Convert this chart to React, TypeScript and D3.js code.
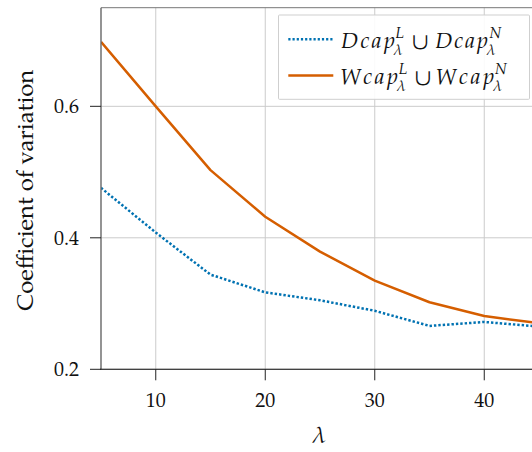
import React from "react";
import * as d3 from "d3";

// λ values on the x axis
const lambdas = [5, 10, 15, 20, 25, 30, 35, 40, 45];
// Coefficient of variation for each union of capacities
const dcapCV = [0.476, 0.408, 0.344, 0.317, 0.305, 0.289, 0.266, 0.272, 0.265];
const wcapCV = [0.698, 0.6, 0.503, 0.432, 0.379, 0.335, 0.302, 0.281, 0.27];

const xTicks = [10, 20, 30, 40];
const yTicks = [0.2, 0.4, 0.6];

const W = 532;
const H = 452;
const left = 101;
const right = 539;
const top = 7.7;
const bottom = 369.3;

const FONT = "'TeX Gyre Pagella', 'Liberation Serif', serif";
const BLUE = "#0072B2";
const ORANGE = "#D55E00";

// legend entries: symbol name, superscripts, and typeset positions of each piece
type Row = {
  name: string;
  base: string;
  sup1: string;
  sup2: string;
  color: string;
  dash?: string;
  lay: { x0: number; bw: number; supX: number; subX: number; cupX: number; x2: number; bw2: number; sup2X: number; sub2X: number };
};
const legendRows: Row[] = [
  {
    name: "dcap",
    base: "Dcap",
    sup1: "L",
    sup2: "N",
    color: BLUE,
    dash: "2.2 2",
    lay: { x0: 341, bw: 54, supX: 395.5, subX: 394, cupX: 411.5, x2: 435.3, bw2: 52.6, sup2X: 489.5, sub2X: 487 },
  },
  {
    name: "wcap",
    base: "Wcap",
    sup1: "L",
    sup2: "N",
    color: ORANGE,
    lay: { x0: 340, bw: 58, supX: 398.8, subX: 397.3, cupX: 414.3, x2: 435.5, bw2: 58.8, sup2X: 495, sub2X: 493.5 },
  },
];

const txt: React.CSSProperties = { fontFamily: FONT };

export default function App() {
  const x = d3.scaleLinear().domain([5, 45]).range([left, right]);
  const y = d3.scaleLinear().domain([0.2, 0.75]).range([bottom, top]);

  const line = d3
    .line<number>()
    .x((_, i) => x(lambdas[i]))
    .y((d) => y(d));

  const series = [
    { values: dcapCV, color: BLUE, dash: "2.4 2.0" },
    { values: wcapCV, color: ORANGE, dash: undefined as string | undefined },
  ];

  const rowGap = 36.3;

  return (
    <svg
      width={W}
      height={H}
      style={{ position: "absolute", left: 0, top: 0, background: "#fff", fontFamily: FONT }}
    >
      <defs>
        <clipPath id="plot-area">
          <rect x={left} y={top} width={right - left} height={bottom - top} />
        </clipPath>
      </defs>

      {/* grid */}
      {xTicks.map((t) => (
        <line key={"gx" + t} x1={x(t)} x2={x(t)} y1={top} y2={bottom} stroke="#cbcbcb" strokeWidth={1} />
      ))}
      {yTicks.map((t) => (
        <line key={"gy" + t} x1={left} x2={right} y1={y(t)} y2={y(t)} stroke="#cbcbcb" strokeWidth={1} />
      ))}

      {/* data lines */}
      <g clipPath="url(#plot-area)">
        {series.map((s, i) => (
          <path
            key={i}
            d={line(s.values) || ""}
            fill="none"
            stroke={s.color}
            strokeWidth={2.5}
            strokeDasharray={s.dash}
            strokeLinejoin="round"
          />
        ))}
      </g>

      {/* spines */}
      <line x1={left} x2={right} y1={top} y2={top} stroke="#777" strokeWidth={1} />
      <line x1={left} x2={left} y1={top} y2={bottom} stroke="#666" strokeWidth={1.4} />
      <line x1={left - 1} x2={right} y1={bottom} y2={bottom} stroke="#111" strokeWidth={1.1} />

      {/* ticks and tick labels */}
      {xTicks.map((t) => (
        <g key={"tx" + t}>
          <line x1={x(t)} x2={x(t)} y1={bottom} y2={bottom + 11} stroke="#222" strokeWidth={1} />
          <text style={txt} x={x(t)} y={406.5} fontSize={20} textAnchor="middle" fill="#111">
            {t}
          </text>
        </g>
      ))}
      {yTicks.map((t) => (
        <g key={"ty" + t}>
          <line x1={left - 11} x2={left} y1={y(t)} y2={y(t)} stroke="#222" strokeWidth={1} />
          <text style={txt} x={79} y={y(t) + 7} fontSize={20} textAnchor="end" fill="#111">
            {t.toFixed(1)}
          </text>
        </g>
      ))}

      {/* axis labels */}
      <text style={txt} x={319.5} y={442.5} fontSize={23} fontStyle="italic" textAnchor="middle" fill="#111">
        λ
      </text>
      <text
        style={txt}
        transform="translate(33.3,190.3) rotate(-90)"
        fontSize={23}
        textAnchor="middle"
        fill="#111"
        textLength={241}
        lengthAdjust="spacingAndGlyphs"
      >
        Coefficient of variation
      </text>

      {/* legend */}
      <rect x={278.5} y={15} width={251} height={84.3} fill="#fff" fillOpacity={0.9} stroke="#cfcfcf" strokeWidth={1} rx={1} />
      {legendRows.map((r, i) => {
        const cy = 39.3 + i * rowGap;
        const base = 47.7 + i * rowGap;
        const L = r.lay;
        return (
          <g key={r.name} fill="#111" style={txt}>
            <line x1={288.3} x2={333.3} y1={cy} y2={cy} stroke={r.color} strokeWidth={2.5} strokeDasharray={r.dash} />
            <text x={L.x0} y={base} fontSize={22} fontStyle="italic" textLength={L.bw} lengthAdjust="spacing">
              {r.base}
            </text>
            <text x={L.supX} y={base - 9.7} fontSize={15} fontStyle="italic">
              {r.sup1}
            </text>
            <text x={L.subX} y={base + 7.3} fontSize={15} fontStyle="italic">
              λ
            </text>
            <text x={L.cupX} y={base} fontSize={23}>
              ∪
            </text>
            <text x={L.x2} y={base} fontSize={22} fontStyle="italic" textLength={L.bw2} lengthAdjust="spacing">
              {r.base}
            </text>
            <text x={L.sup2X} y={base - 9.7} fontSize={15} fontStyle="italic">
              {r.sup2}
            </text>
            <text x={L.sub2X} y={base + 7.3} fontSize={15} fontStyle="italic">
              λ
            </text>
          </g>
        );
      })}
    </svg>
  );
}
